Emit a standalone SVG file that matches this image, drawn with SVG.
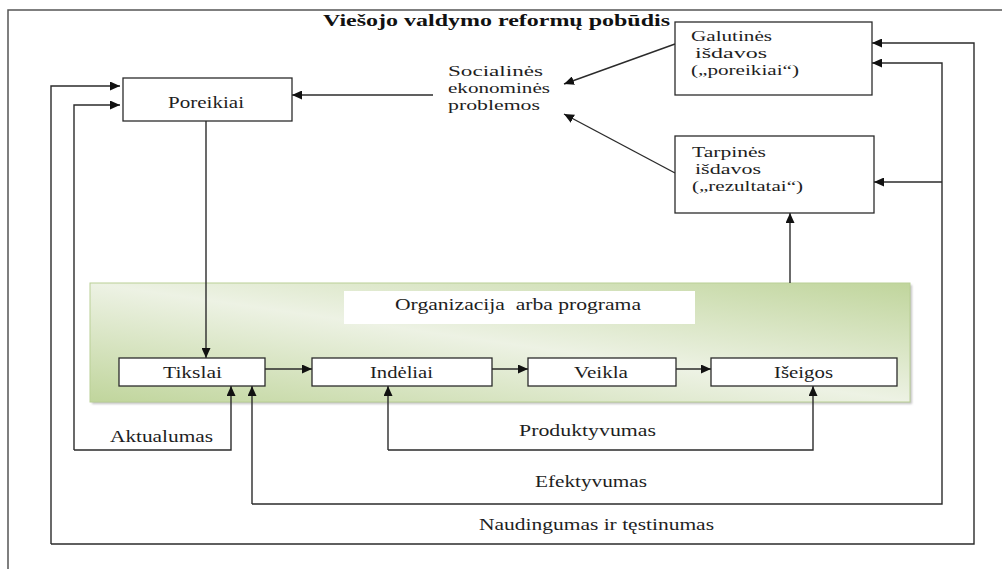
<svg xmlns="http://www.w3.org/2000/svg" width="1002" height="569" viewBox="0 0 1002 569">
  <style>
    text { font-family: "Liberation Serif", "DejaVu Serif", serif; font-size: 16.5px; fill: #1e1e1e; }
    .title { font-size: 17.5px; font-weight: bold; fill: #111; }
    .small { font-size: 15px; }
    .box { fill: #fff; stroke: #2b2b2b; stroke-width: 1.3; }
    .frame { fill: none; stroke: #555; stroke-width: 1.5; }
    .conn path { fill: none; stroke: #2b2b2b; stroke-width: 1.4; }
    .conn path.arr { marker-end: url(#ah); }
  </style>
  <defs>
    <marker id="ah" markerUnits="userSpaceOnUse" markerWidth="11" markerHeight="9" refX="10" refY="4.5" orient="auto">
      <path d="M0,0 L10,4.5 L0,9 z" fill="#111"/>
    </marker>
    <linearGradient id="green" x1="0" y1="1" x2="1" y2="0">
      <stop offset="0" stop-color="#c0d59c"/>
      <stop offset="0.5" stop-color="#edf2e4"/>
      <stop offset="1" stop-color="#c0d59c"/>
    </linearGradient>
    <filter id="shadow" x="-5%" y="-10%" width="110%" height="130%">
      <feGaussianBlur stdDeviation="1.2"/>
    </filter>
  </defs>

  <rect width="1002" height="569" fill="#fff"/>

  <!-- outer frame -->
  <path class="frame" d="M8,569 V10 H1002"/>

  <!-- title -->
  <text class="title" x="323" y="26" textLength="347" lengthAdjust="spacingAndGlyphs">Viešojo valdymo reformų pobūdis</text>

  <!-- organisation / programme panel -->
  <g id="panel">
    <rect x="92" y="285" width="820" height="119" fill="#9a9a9a" opacity="0.6" filter="url(#shadow)"/>
    <rect x="90" y="283" width="820" height="119" fill="url(#green)" stroke="#b9cf95" stroke-width="1"/>
    <rect x="344" y="291" width="351" height="33" fill="#fff"/>
    <text x="395" y="310" xml:space="preserve" textLength="246" lengthAdjust="spacingAndGlyphs">Organizacija  arba programa</text>
  </g>

  <!-- connectors -->
  <g class="conn">
    <path class="arr" d="M433,95 H292"/>
    <path class="arr" d="M675,44 L564,84"/>
    <path class="arr" d="M675,173 L564,114"/>
    <path class="arr" d="M206,121 V358"/>
    <path class="arr" d="M265,369 H312"/>
    <path class="arr" d="M492,369 H528"/>
    <path class="arr" d="M676,369 H711"/>
    <path class="arr" d="M790,283 V213"/>
    <!-- Aktualumas -->
    <path class="arr" d="M74,450 H231 V386"/>
    <path class="arr" d="M74,450 V105 H120"/>
    <!-- Produktyvumas -->
    <path class="arr" d="M388,450 V386"/>
    <path class="arr" d="M388,450 H813 V386"/>
    <!-- Efektyvumas -->
    <path class="arr" d="M252,504 V386"/>
    <path class="arr" d="M252,504 H942 V63 H872"/>
    <path class="arr" d="M942,182 H874"/>
    <!-- Naudingumas ir tęstinumas -->
    <path class="arr" d="M51,544 V86 H120"/>
    <path class="arr" d="M51,544 H974 V43 H872"/>
  </g>

  <!-- nodes -->
  <g id="poreikiai">
    <rect class="box" x="123" y="78" width="169" height="43"/>
    <text x="168" y="108" textLength="76" lengthAdjust="spacingAndGlyphs">Poreikiai</text>
  </g>

  <g id="problemos">
    <text class="small" x="448" y="76" textLength="95" lengthAdjust="spacingAndGlyphs">Socialinės</text>
    <text class="small" x="448" y="93" textLength="102" lengthAdjust="spacingAndGlyphs">ekonominės</text>
    <text class="small" x="448" y="110" textLength="92" lengthAdjust="spacingAndGlyphs">problemos</text>
  </g>

  <g id="galutines">
    <rect class="box" x="675" y="22" width="197" height="73"/>
    <text class="small" x="691" y="41" textLength="81" lengthAdjust="spacingAndGlyphs">Galutinės</text>
    <text class="small" x="695" y="58" textLength="72" lengthAdjust="spacingAndGlyphs">išdavos</text>
    <text class="small" x="691" y="75" textLength="108" lengthAdjust="spacingAndGlyphs">(„poreikiai“)</text>
  </g>

  <g id="tarpines">
    <rect class="box" x="675" y="136" width="199" height="77"/>
    <text class="small" x="692" y="157" textLength="74" lengthAdjust="spacingAndGlyphs">Tarpinės</text>
    <text class="small" x="695" y="174" textLength="66" lengthAdjust="spacingAndGlyphs">išdavos</text>
    <text class="small" x="692" y="191" textLength="111" lengthAdjust="spacingAndGlyphs">(„rezultatai“)</text>
  </g>

  <g id="tikslai">
    <rect class="box" x="119" y="358" width="146" height="28"/>
    <text x="163" y="378" textLength="59" lengthAdjust="spacingAndGlyphs">Tikslai</text>
  </g>

  <g id="indeliai">
    <rect class="box" x="312" y="358" width="180" height="28"/>
    <text x="370" y="378" textLength="63" lengthAdjust="spacingAndGlyphs">Indėliai</text>
  </g>

  <g id="veikla">
    <rect class="box" x="528" y="358" width="148" height="28"/>
    <text x="574" y="378" textLength="54" lengthAdjust="spacingAndGlyphs">Veikla</text>
  </g>

  <g id="iseigos">
    <rect class="box" x="711" y="358" width="186" height="28"/>
    <text x="774" y="378" textLength="59" lengthAdjust="spacingAndGlyphs">Išeigos</text>
  </g>

  <!-- connector labels -->
  <g id="labels">
    <text x="110" y="442" textLength="103" lengthAdjust="spacingAndGlyphs">Aktualumas</text>
    <text x="519" y="436" textLength="137" lengthAdjust="spacingAndGlyphs">Produktyvumas</text>
    <text x="535" y="487" textLength="112" lengthAdjust="spacingAndGlyphs">Efektyvumas</text>
    <text x="479" y="530" textLength="235" lengthAdjust="spacingAndGlyphs">Naudingumas ir tęstinumas</text>
  </g>
</svg>
